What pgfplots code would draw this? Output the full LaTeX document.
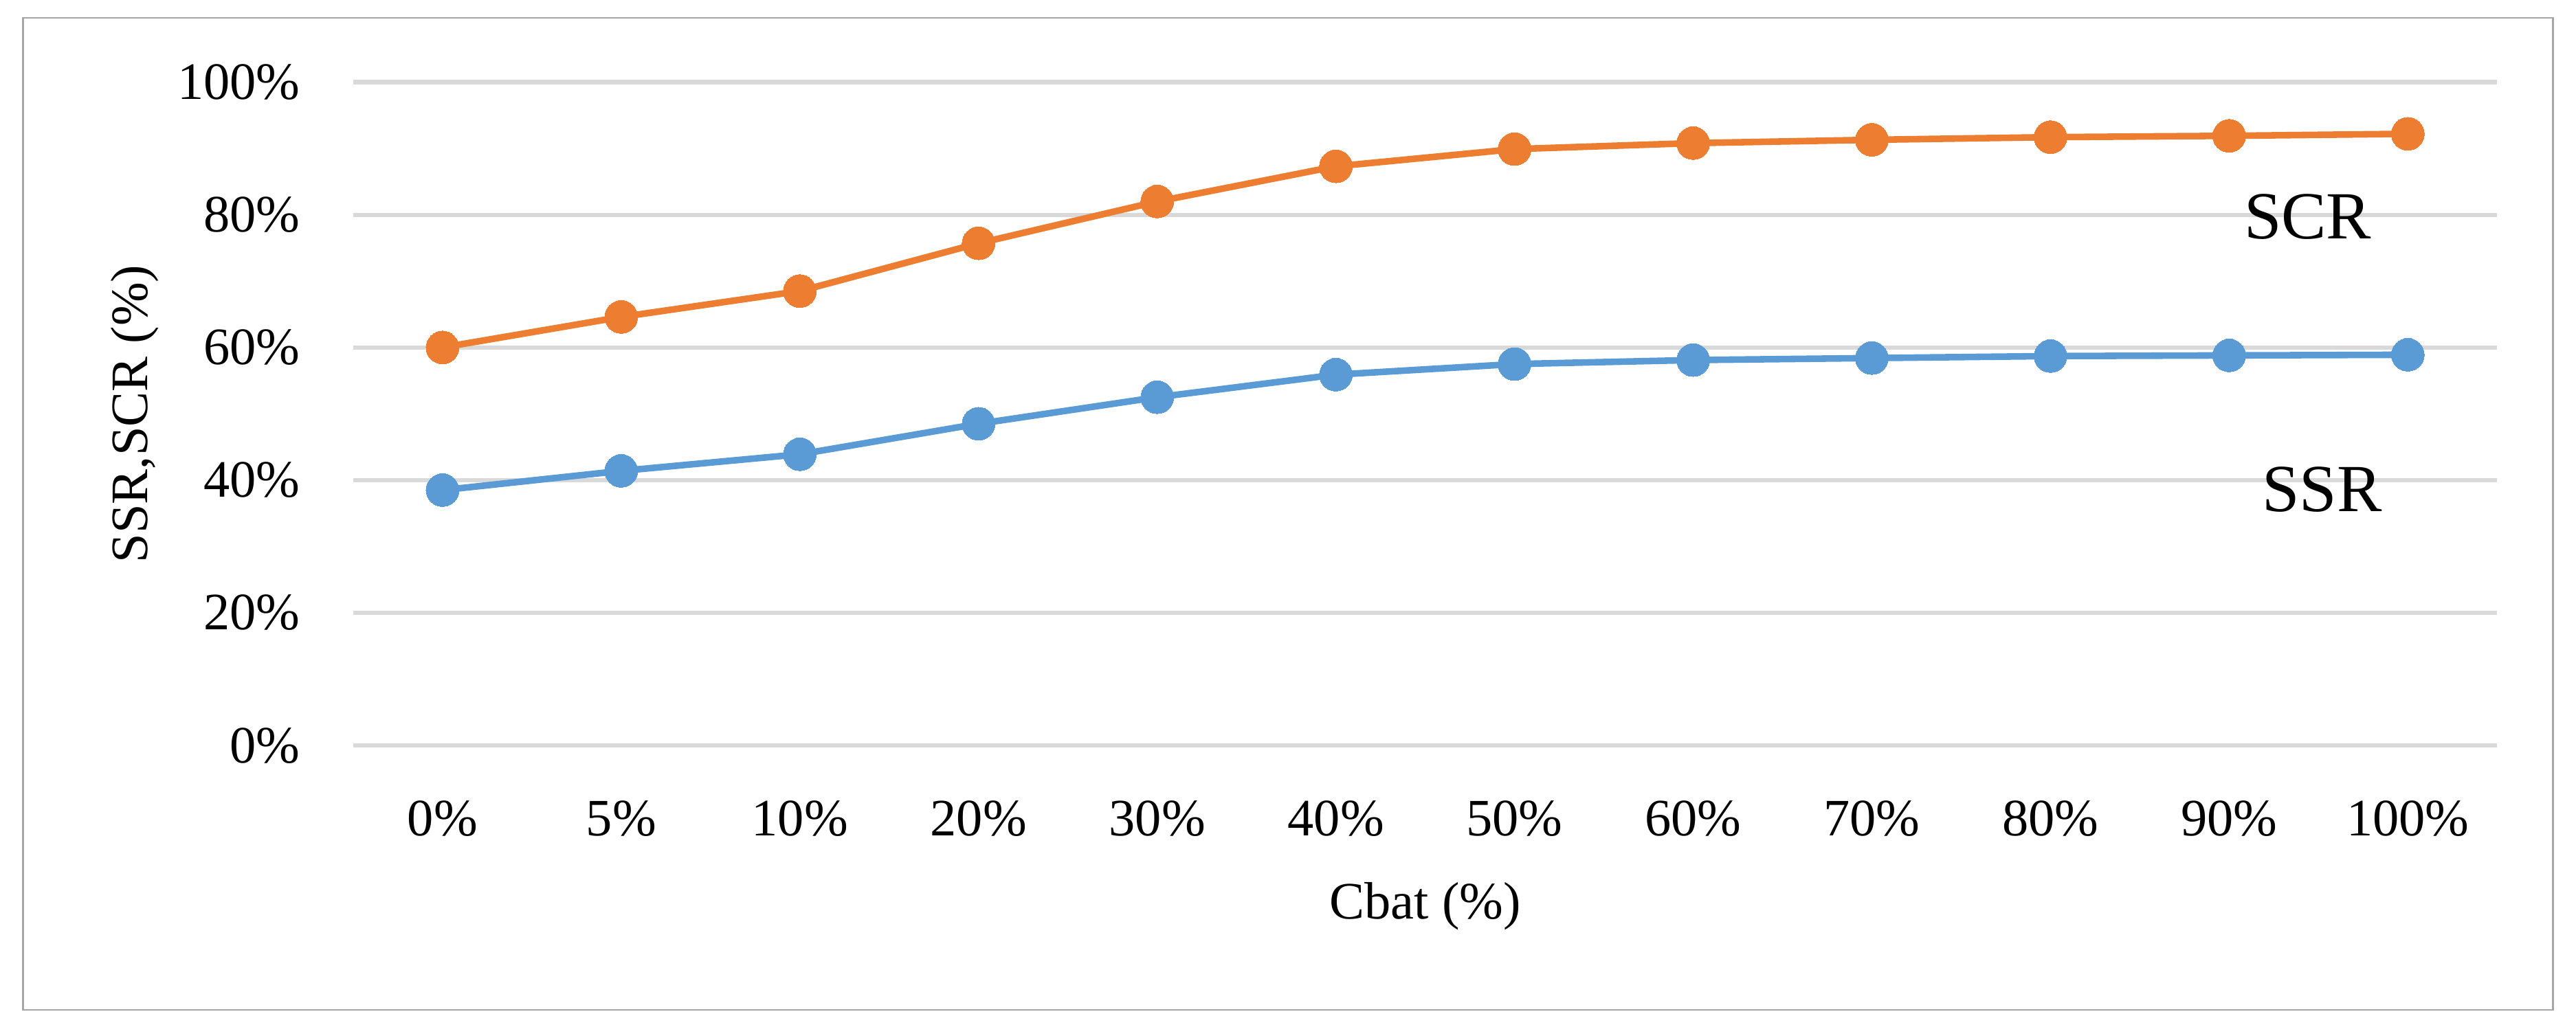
\documentclass[border=0pt]{standalone}
\usepackage{pgfplots}
\pgfplotsset{compat=1.18}
\usepackage{fontspec}
\setmainfont{Liberation Serif}
\definecolor{scr}{HTML}{ED7D31}
\definecolor{ssr}{HTML}{5B9BD5}
\definecolor{gridc}{HTML}{D9D9D9}
\definecolor{framec}{HTML}{A6A6A6}
\begin{document}
\begin{tikzpicture}
\path (-107.5pt,-85pt) rectangle (676.5pt,227pt);
\draw[framec, line width=0.5pt] (-100.5pt,-80.5pt) rectangle (669.5pt,221.5pt);
\begin{axis}[
 at={(0,0)}, anchor=south west,
 scale only axis, width=652.5pt, height=202pt,
 xmin=-0.5, xmax=11.5, ymin=0, ymax=100,
 xtick={0,...,11},
 xticklabels={0\%,5\%,10\%,20\%,30\%,40\%,50\%,60\%,70\%,80\%,90\%,100\%},
 ytick={0,20,...,100}, yticklabels={0\%,20\%,40\%,60\%,80\%,100\%},
 axis line style={draw=none}, major tick length=0pt,
 ymajorgrids, grid style={gridc, line width=1.3pt},
 tick label style={font=\fontsize{16}{19}\selectfont, inner sep=0pt},
 xticklabel style={anchor=base, yshift=-27.5pt},
 yticklabel style={anchor=east, xshift=-16pt},
 xlabel={Cbat (\%)}, ylabel={SSR,SCR (\%)},
 label style={font=\fontsize{16}{19}\selectfont},
 xlabel style={at={(axis description cs:0.5,-0.2426)}, anchor=center},
 ylabel style={at={(axis description cs:-0.1019,0.5)}, anchor=center},
 clip=false,
]
\addplot[color=scr, line width=2pt, mark=*, mark size=5pt, mark options={solid, line width=0pt, fill=scr}]
coordinates {(0,60.0) (1,64.6) (2,68.5) (3,75.7) (4,82.0) (5,87.3) (6,89.9) (7,90.8) (8,91.3) (9,91.7) (10,91.9) (11,92.2)};
\addplot[color=ssr, line width=2pt, mark=*, mark size=5pt, mark options={solid, line width=0pt, fill=ssr}]
coordinates {(0,38.5) (1,41.4) (2,43.9) (3,48.5) (4,52.5) (5,55.9) (6,57.5) (7,58.1) (8,58.4) (9,58.7) (10,58.8) (11,58.9)};
\node[font=\fontsize{20.5}{24}\selectfont] at (axis cs:10.44,79.7) {SCR};
\node[font=\fontsize{20.5}{24}\selectfont] at (axis cs:10.52,38.6) {SSR};
\end{axis}
\end{tikzpicture}
\end{document}
